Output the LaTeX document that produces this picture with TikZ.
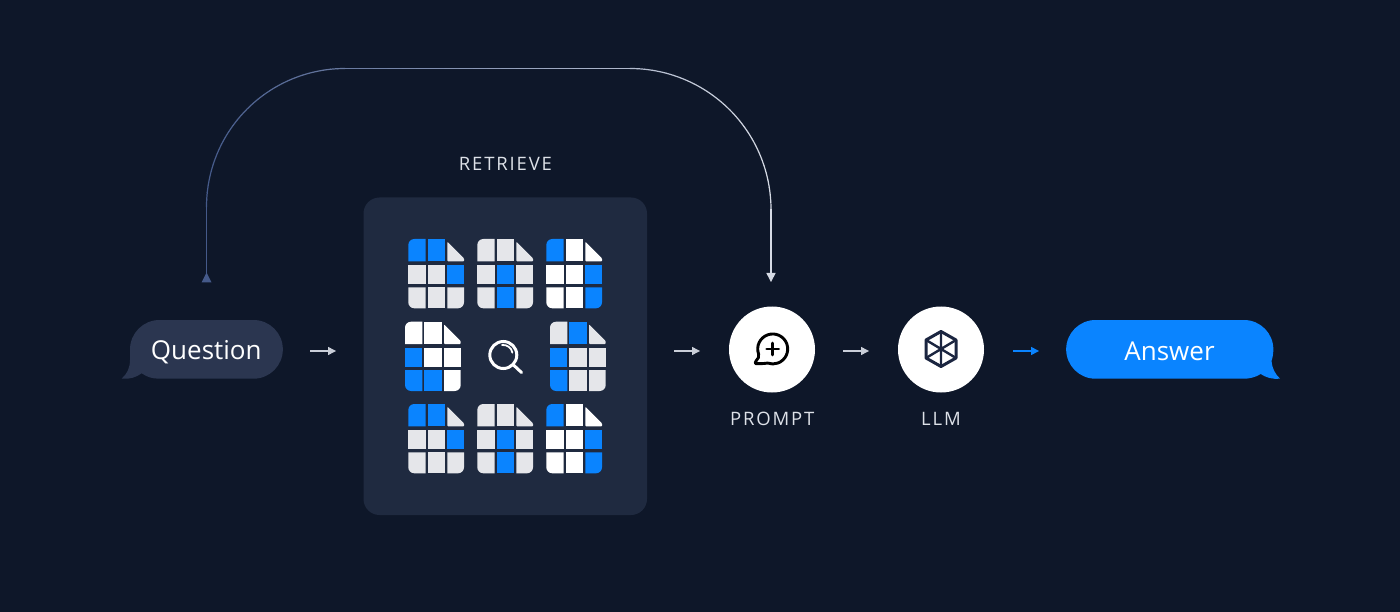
\documentclass[tikz,border=0pt]{standalone}
\usepackage{fontspec}
\setmainfont{Open Sans}
\newfontfamily\capsfont[LetterSpace=10]{Open Sans}
\definecolor{bgc}{HTML}{0E1729}
\definecolor{panelc}{HTML}{1F2A40}
\definecolor{qc}{HTML}{2B3650}
\definecolor{bluec}{HTML}{0A84FF}
\definecolor{greyc}{HTML}{E5E6EA}
\definecolor{whitec}{HTML}{FFFFFF}
\definecolor{arrowc}{HTML}{C9CED8}
\definecolor{txtc}{HTML}{DDE1E8}
\definecolor{loopa}{HTML}{455A8A}
\definecolor{loopb}{HTML}{D5DAE4}
\definecolor{iconc}{HTML}{1B2540}
\tikzset{
  x=1pt,y=-1pt,
  caps/.style={text=txtc,font=\capsfont\fontsize{18.5}{20}\selectfont,inner sep=0pt},
  bubbletext/.style={text=white,font=\fontsize{26}{30}\selectfont,inner sep=0pt},
  circ/.style={circle,fill=white,draw=none,minimum size=86pt,inner sep=0pt},
}
\newcommand{\smallarr}[3]{%
  \coordinate (#1a) at (#2,351);
  \coordinate (#1b) at (#2+26,351);
  \draw[draw=#3,line width=1.2pt] (#1a) -- ([xshift=-6pt]#1b);
  \fill[#3] (#1b) -- ++(-8,-4.2) -- ++(0,8.4) -- cycle;
}
\newcommand{\docgrid}[9]{%
  \fill[#1] (0,22.3) -- (0,6) arc[start angle=180,end angle=270,radius=6] -- (17.4,0) -- (17.4,22.3) -- cycle;
  \fill[#2] (19.4,0) rectangle (36.7,22.3);
  \fill[#3,rounded corners=0.8pt] (39,2.7) -- (55.7,19.4) -- (55.7,22.3) -- (39,22.3) -- cycle;
  \fill[#4] (0,26) rectangle (17.4,45);
  \fill[#5] (19.4,26) rectangle (36.7,45);
  \fill[#6] (39,26) rectangle (55.7,45);
  \fill[#7] (0,48.3) -- (0,63.3) arc[start angle=180,end angle=90,radius=6] -- (17.4,69.3) -- (17.4,48.3) -- cycle;
  \fill[#8] (19.4,48.3) rectangle (36.7,69.3);
  \fill[#9] (39,48.3) -- (39,69.3) -- (49.7,69.3) arc[start angle=90,end angle=0,radius=6] -- (55.7,48.3) -- cycle;
}
\newcommand{\docA}[2]{\begin{scope}[shift={(#1,#2)}]\docgrid{bluec}{bluec}{greyc}{greyc}{greyc}{bluec}{greyc}{greyc}{greyc}\end{scope}}
\newcommand{\docB}[2]{\begin{scope}[shift={(#1,#2)}]\docgrid{greyc}{greyc}{greyc}{greyc}{bluec}{greyc}{greyc}{bluec}{greyc}\end{scope}}
\newcommand{\docC}[2]{\begin{scope}[shift={(#1,#2)}]\docgrid{bluec}{whitec}{whitec}{whitec}{whitec}{bluec}{whitec}{whitec}{bluec}\end{scope}}
\newcommand{\docD}[2]{\begin{scope}[shift={(#1,#2)}]\docgrid{whitec}{whitec}{whitec}{bluec}{whitec}{whitec}{bluec}{bluec}{whitec}\end{scope}}
\newcommand{\docE}[2]{\begin{scope}[shift={(#1,#2)}]\docgrid{greyc}{bluec}{greyc}{bluec}{greyc}{greyc}{bluec}{greyc}{greyc}\end{scope}}
\begin{document}
\begin{tikzpicture}
\useasboundingbox (0,0) rectangle (1400,612);
\fill[bgc] (0,0) rectangle (1400,612);

% loop connector, coloured along x
\coordinate (loopstart) at (206.5,275);
\coordinate (loopend) at (771,275);
\draw[loopa,line width=1.2pt] (loopstart) -- (206.5,207);
\foreach \i in {1,...,30}{
  \pgfmathsetmacro{\aa}{180-(\i-1)*3}
  \pgfmathsetmacro{\ab}{180-\i*3}
  \pgfmathsetmacro{\tt}{((345+138.5*cos(\aa+(\ab-\aa)/2))-206.5)/564.5*100}
  \draw[loopb!\tt!loopa,line width=1.2pt,line cap=round] (345,207)++(\aa:138.5 and -138.5) arc[start angle=\aa,end angle=\ab,x radius=138.5,y radius=-138.5];
}
\foreach \i in {1,...,20}{
  \pgfmathsetmacro{\xa}{345+(\i-1)*14.25}
  \pgfmathsetmacro{\xb}{345+\i*14.25}
  \pgfmathsetmacro{\tt}{(\xa+7-206.5)/564.5*100}
  \draw[loopb!\tt!loopa,line width=1.2pt,line cap=round] (\xa,68.5) -- (\xb,68.5);
}
\foreach \i in {1,...,30}{
  \pgfmathsetmacro{\aa}{90-(\i-1)*3}
  \pgfmathsetmacro{\ab}{90-\i*3}
  \pgfmathsetmacro{\tt}{((630+141*cos(\aa+(\ab-\aa)/2))-206.5)/564.5*100}
  \draw[loopb!\tt!loopa,line width=1.2pt,line cap=round] (630,209.5)++(\aa:141 and -141) arc[start angle=\aa,end angle=\ab,x radius=141,y radius=-141];
}
\draw[loopb,line width=1.2pt] (771,209.5) -- (loopend);
\fill[loopa] (206.5,272.5) -- (201.5,282.5) -- (211.5,282.5) -- cycle;
\fill[loopb] (771,282) -- (766.3,273) -- (775.7,273) -- cycle;

% Question bubble
\fill[qc] (159.5,320) -- (253.5,320) arc[start angle=-90,end angle=90,radius=29.35] -- (159.5,378.7)
  .. controls (152,378.7) and (147,377) .. (141.7,373.3)
  .. controls (136,377.5) and (129,379.5) .. (121.7,378.6)
  .. controls (127,374) and (130,368) .. (130,360)
  -- (130,349.5) arc[start angle=180,end angle=270,radius=29.5] -- cycle;
\node[bubbletext] (question) at (206.3,352.5) {Question};

% Answer bubble
\fill[bluec] (1095.5,320) -- (1244,320) arc[start angle=-90,end angle=0,radius=29.35]
  .. controls (1273.35,354) and (1272.5,358) .. (1271.5,361)
  .. controls (1272,368) and (1275,374) .. (1280,378.6)
  .. controls (1272,379.5) and (1266,377.5) .. (1260.7,374)
  .. controls (1255,377.5) and (1249,378.7) .. (1244,378.7)
  -- (1095.5,378.7) arc[start angle=90,end angle=270,radius=29.35] -- cycle;
\node[bubbletext] (answer) at (1169.5,351) {Answer};

% panel
\node[caps] (retrieve) at (505.5,163.5) {RETRIEVE};
\fill[panelc,rounded corners=16pt] (363.5,197.5) rectangle (647,515);
\docA{408.3}{239}
\docB{477.3}{239}
\docC{546.3}{239}
\docD{405}{321.7}
\docE{550}{321.7}
\docA{408.3}{404}
\docB{477.3}{404}
\docC{546.3}{404}

% magnifier
\draw[white,line width=3pt] (503.3,355) circle[radius=13.5];
\draw[white,line width=3pt,line cap=round] (513.5,365) -- (521.5,372.5);
\draw[white,line width=1.8pt,line cap=round] (502,345) arc[start angle=-97,end angle=-10,radius=9.4];

% arrows
\smallarr{ao}{310}{arrowc}
\smallarr{bo}{674}{arrowc}
\smallarr{co}{843}{arrowc}
\smallarr{do}{1013}{bluec}

% prompt
\node[circ] (prompt) at (772,349.5) {};
\node[caps] (promptlabel) at (772.3,419) {PROMPT};
\draw[black,line width=2.9pt,line join=round,line cap=round]
  (758.6,354.1) arc[start angle=160,end angle=470,radius=15]
  .. controls (763,363.7) and (760,363.7) .. (756,363.7)
  .. controls (755,363.7) and (755,362) .. (756,361)
  .. controls (758,359) and (759.5,356.5) .. (758.6,354.1) -- cycle;
\draw[black,line width=2.9pt,line cap=round] (772.7,343) -- (772.7,355) (766.7,349) -- (778.7,349);

% llm
\node[circ] (llm) at (941,349.5) {};
\node[caps] (llmlabel) at (941,419) {LLM};
\draw[iconc,line width=3pt,line join=round]
  (941,331.5) -- (956,340) -- (956,358) -- (941,366.5) -- (926,358) -- (926,340) -- cycle;
\draw[iconc,line width=2.4pt]
  (941,331.5) -- (941,366.5) (926,340) -- (956,358) (956,340) -- (926,358);
\end{tikzpicture}
\end{document}
